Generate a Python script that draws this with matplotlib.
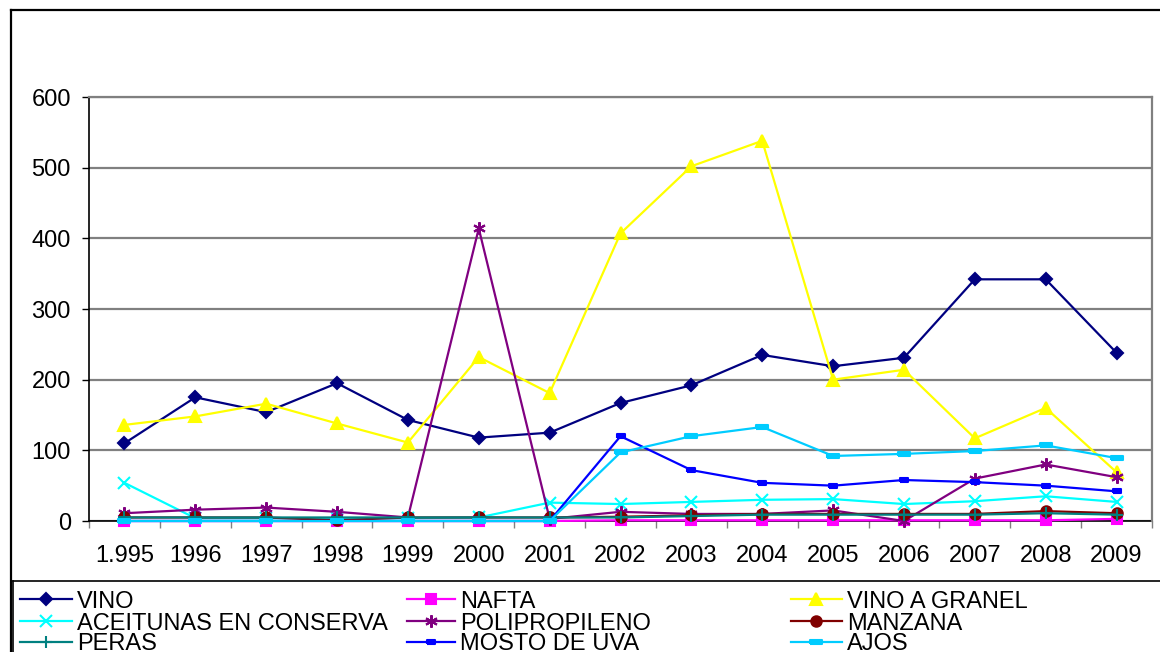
import matplotlib

matplotlib.use("Agg")
import matplotlib.pyplot as plt
from matplotlib.lines import Line2D

plt.rcParams["font.family"] = ["Liberation Sans", "DejaVu Sans"]

years = ["1.995", "1996", "1997", "1998", "1999", "2000", "2001", "2002",
         "2003", "2004", "2005", "2006", "2007", "2008", "2009"]

vino = [110, 175, 154, 195, 143, 118, 125, 167, 192, 235, 219, 231, 342, 342, 238]
nafta = [0, 0, 0, 0, 0, 0, 0, 1, 1, 1, 1, 1, 1, 1, 3]
vino_granel = [136, 148, 166, 138, 111, 232, 181, 407, 502, 538, 200, 214, 117, 160, 69]
aceitunas = [54, 4, 4, 4, 4, 5, 26, 24, 27, 30, 31, 24, 28, 35, 27]
polipropileno = [11, 16, 19, 13, 5, 414, 3, 13, 10, 10, 15, 0, 60, 80, 62]
manzana = [5, 5, 5, 1, 5, 5, 5, 6, 8, 10, 10, 10, 10, 14, 11]
peras = [5, 5, 5, 5, 5, 5, 5, 5, 7, 9, 9, 9, 9, 11, 9]
mosto = [0, 0, 0, 0, 0, 0, 0, 120, 72, 54, 50, 58, 55, 50, 42]
ajos = [0, 0, 0, 0, 0, 0, 0, 97, 120, 133, 92, 95, 99, 107, 89]

W, H = 1160, 652
fig = plt.figure(figsize=(W / 100, H / 100), dpi=100)

# plot area in pixel coords
x0, x1, ytop, ybot = 89, 1152, 97, 521
ax = fig.add_axes([x0 / W, 1 - ybot / H, (x1 - x0) / W, (ybot - ytop) / H])

asterisk = (6, 2, 0)
short_dash = [(-1, -0.5), (1, -0.5), (1, 0.5), (-1, 0.5), (-1, -0.5)]
long_dash = [(-1, -0.35), (1, -0.35), (1, 0.35), (-1, 0.35), (-1, -0.35)]

series = [
    ("VINO", vino, "#000080", "D", 6),
    ("NAFTA", nafta, "#FF00FF", "s", 6.5),
    ("VINO A GRANEL", vino_granel, "#FFFF00", "^", 9),
    ("ACEITUNAS EN CONSERVA", aceitunas, "#00FFFF", "x", 8),
    ("POLIPROPILENO", polipropileno, "#800080", asterisk, 9),
    ("MANZANA", manzana, "#800000", "o", 7.5),
    ("PERAS", peras, "#008080", "+", 9),
    ("MOSTO DE UVA", mosto, "#0000FF", short_dash, 6),
    ("AJOS", ajos, "#00CCFF", long_dash, 9),
]

xs = list(range(len(years)))
for name, vals, col, mk, ms in series:
    ax.plot(xs, vals, color=col, lw=1.6, marker=mk, ms=ms, mfc=col, mec=col,
            mew=1.5, clip_on=False, zorder=3)

ax.set_xlim(-0.5, len(years) - 0.5)
ax.set_ylim(0, 600)
ax.set_yticks(range(0, 601, 100))
ax.grid(axis="y", color="#808080", lw=1.6, zorder=1)
ax.set_xticks(xs)
ax.set_xticklabels(years)
ax.set_xticks([i - 0.5 for i in range(len(years) + 1)], minor=True)
ax.tick_params(axis="x", which="major", length=0, labelsize=17, pad=17)
ax.tick_params(axis="x", which="minor", length=5, width=1, color="#808080")
ax.tick_params(axis="y", length=5, width=1, labelsize=17, pad=8)
for side in ("top", "right"):
    ax.spines[side].set_color("#808080")
    ax.spines[side].set_linewidth(1.6)
for side in ("left", "bottom"):
    ax.spines[side].set_color("black")
    ax.spines[side].set_linewidth(1.2)
ax.spines["bottom"].set_zorder(2)


def px(x, y):
    return x / W, 1 - y / H


# outer chart border
fig.add_artist(Line2D([11 / W, 11 / W], [1 - 10 / H, 0], color="black", lw=1.6))
fig.add_artist(Line2D([11 / W, 1], [1 - 10 / H, 1 - 10 / H], color="black", lw=1.6))
# legend box
fig.add_artist(Line2D([13 / W, 1], [1 - 581 / H, 1 - 581 / H], color="black", lw=1.2))
fig.add_artist(Line2D([13 / W, 13 / W], [1 - 581 / H, 0], color="black", lw=1.2))

col_handles = [(20, 72), (407, 455), (791, 842)]
row_y = [599, 621, 642]
for i, (name, vals, col, mk, ms) in enumerate(series):
    r, c = divmod(i, 3)
    hx0, hx1 = col_handles[c]
    yy = row_y[r]
    fig.add_artist(Line2D([hx0 / W, hx1 / W], [1 - yy / H, 1 - yy / H],
                          color=col, lw=1.6))
    fig.add_artist(Line2D([(hx0 + hx1) / 2 / W], [1 - yy / H], color=col,
                          marker=mk, ms=ms, mfc=col, mec=col, mew=1.5, lw=0))
    fig.text((hx1 + 5) / W, 1 - (yy + 8.5) / H, name, fontsize=17,
             va="baseline", ha="left")

fig.savefig("out.png", dpi=100)
